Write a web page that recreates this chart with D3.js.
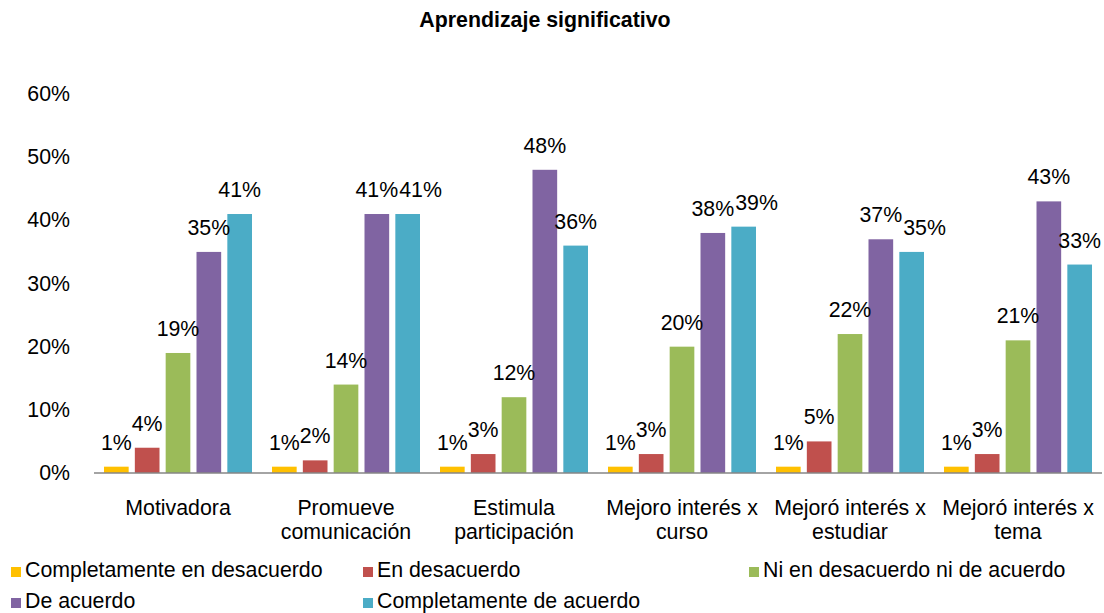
<!DOCTYPE html>
<html>
<head>
<meta charset="utf-8">
<script src="https://cdn.jsdelivr.net/npm/d3@7"></script>
<style>
  body { margin: 0; background: #fff; }
  svg { font-family: "Liberation Sans", Arial, sans-serif; }
</style>
</head>
<body>
<div id="chart"></div>
<script>
const categories = [
    ["Motivadora"],
    ["Promueve", "comunicación"],
    ["Estimula", "participación"],
    ["Mejoro interés x", "curso"],
    ["Mejoró interés x", "estudiar"],
    ["Mejoró interés x", "tema"]
];
const series = [
    "Completamente en desacuerdo",
    "En desacuerdo",
    "Ni en desacuerdo ni de acuerdo",
    "De acuerdo",
    "Completamente de acuerdo"
];
const colors = ["#FFC000", "#C0504D", "#9BBB59", "#8064A2", "#4BACC6"];
const values = [
    [1, 4, 19, 35, 41],
    [1, 2, 14, 41, 41],
    [1, 3, 12, 48, 36],
    [1, 3, 20, 38, 39],
    [1, 5, 22, 37, 35],
    [1, 3, 21, 43, 33]
];
const yTicks = [0, 10, 20, 30, 40, 50, 60];

const width = 1104, height = 613;
const margin = {top: 94, left: 94, right: 2, bottom: 140};
const plotH = height - margin.top - margin.bottom; // 0% sits at y=473
const fs = 21.33;

const svg = d3.select("#chart").append("svg")
    .attr("width", width)
    .attr("height", height);

// Title
svg.append("text")
    .attr("x", 545)
    .attr("y", 27)
    .attr("text-anchor", "middle")
    .attr("font-size", fs)
    .attr("font-weight", "bold")
    .text("Aprendizaje significativo");

const g = svg.append("g")
    .attr("transform", `translate(${margin.left}, ${margin.top})`);

const x0 = d3.scaleBand()
    .domain(d3.range(categories.length))
    .range([0, 1008]);

const x1 = d3.scaleBand()
    .domain(d3.range(series.length))
    .range([10, 158])
    .paddingInner(0.2);

const y = d3.scaleLinear()
    .domain([0, 60])
    .range([plotH, 0]);

// Y axis labels (no axis line in the original)
g.selectAll(".ytick")
    .data(yTicks)
    .enter()
    .append("text")
    .attr("x", -24)
    .attr("y", d => y(d) + 7)
    .attr("text-anchor", "end")
    .attr("font-size", fs)
    .attr("fill", "#000")
    .text(d => d + "%");

// Bars
const groups = g.selectAll(".grp")
    .data(values)
    .enter()
    .append("g")
    .attr("transform", (d, i) => `translate(${x0(i)},0)`);

groups.selectAll("rect")
    .data(d => d)
    .enter()
    .append("rect")
    .attr("x", (d, i) => x1(i))
    .attr("y", d => y(d))
    .attr("width", x1.bandwidth())
    .attr("height", d => plotH - y(d))
    .attr("fill", (d, i) => colors[i]);

// Value labels; push a label right when it collides with the one before it
groups.each(function(vals) {
    let prev = null;
    d3.select(this).selectAll(".lbl")
        .data(vals)
        .enter()
        .append("text")
        .attr("class", "lbl")
        .attr("x", (d, i) => x1(i) + x1.bandwidth() / 2)
        .attr("y", d => y(d) - 17)
        .attr("text-anchor", "middle")
        .attr("font-size", fs)
        .text(d => d + "%")
        .each(function(d, i) {
            const w = this.getComputedTextLength();
            let cx = x1(i) + x1.bandwidth() / 2;
            const ty = y(d) - 17;
            if (prev && Math.abs(prev.y - ty) < 15 && cx - w / 2 < prev.right) {
                cx = prev.right + 1 + w / 2;
                d3.select(this).attr("x", cx);
            }
            prev = {right: cx + w / 2, y: ty};
        });
});

// X axis line
g.append("line")
    .attr("x1", 0)
    .attr("x2", 1008)
    .attr("y1", plotH)
    .attr("y2", plotH)
    .attr("stroke", "#868686")
    .attr("stroke-width", 1.5);

// Category labels
const catLabels = g.selectAll(".cat")
    .data(categories)
    .enter()
    .append("text")
    .attr("text-anchor", "middle")
    .attr("font-size", fs)
    .attr("transform", (d, i) => `translate(${x0(i) + x0.bandwidth() / 2},${plotH + 42})`);

catLabels.selectAll("tspan")
    .data(d => d)
    .enter()
    .append("tspan")
    .attr("x", 0)
    .attr("dy", (d, i) => i === 0 ? 0 : 24)
    .text(d => d);

// Legend
const legendPos = [[11, 577], [363, 577], [749, 577], [11, 608], [363, 608]];
const legend = svg.selectAll(".leg")
    .data(series)
    .enter()
    .append("g")
    .attr("transform", (d, i) => `translate(${legendPos[i][0]},${legendPos[i][1]})`);

legend.append("rect")
    .attr("x", 0)
    .attr("y", -10)
    .attr("width", 10)
    .attr("height", 10)
    .attr("fill", (d, i) => colors[i]);

legend.append("text")
    .attr("x", 14)
    .attr("y", 0)
    .attr("font-size", fs)
    .text(d => d);
</script>
</body>
</html>
